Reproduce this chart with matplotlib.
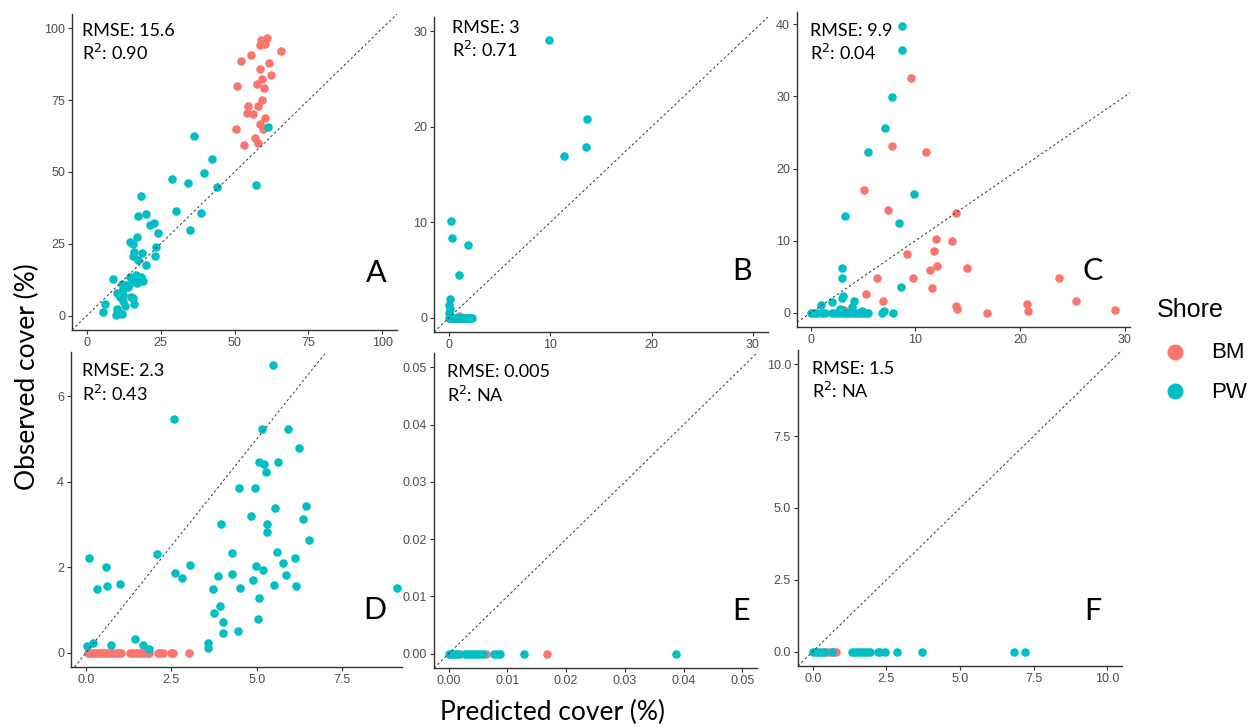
import matplotlib
matplotlib.use("Agg")
import matplotlib.pyplot as plt
from matplotlib.lines import Line2D

W, H = 1258, 727
BM_COL = "#F8766D"
PW_COL = "#00BFC4"

# ---------------- data ----------------
# Panel A
a_bm_x = [58.9, 60.9, 60.3, 58.7, 59.8, 65.7, 55.6, 52.2, 61.6, 58.7, 62.4, 59.2, 57.5, 60.0,
          50.8, 59.2, 58.0, 54.6, 54.1, 56.1, 60.2, 58.7, 59.8, 50.5, 56.8, 58.1, 53.3]
a_bm_y = [96.1, 96.6, 94.4, 94.1, 95.6, 92.1, 90.9, 88.7, 88.1, 86.0, 83.9, 82.3, 80.8, 79.2,
          79.9, 75.0, 72.9, 73.1, 70.5, 70.1, 68.9, 66.7, 64.8, 64.9, 61.9, 60.2, 59.4]
a_pw_x = [61.5, 57.2, 36.4, 42.3, 39.6, 29.0, 34.2, 44.2, 18.2, 30.2, 38.5, 17.3, 20.1, 21.4,
          22.9, 24.2, 34.9, 17.1, 14.6, 15.5, 23.3, 15.9, 18.6, 23.1, 15.5, 17.4, 20.0, 9.0,
          14.6, 16.6, 18.2, 19.1, 17.1, 15.2, 13.2, 11.8, 12.4, 14.0, 10.1, 11.2, 14.8, 12.4,
          15.9, 12.9, 6.2, 5.6, 10.3, 9.9, 11.8, 10.7, 16.3, 17.8, 15.6, 12.3]
a_pw_y = [65.6, 45.5, 62.5, 54.6, 49.8, 47.5, 46.3, 44.7, 41.8, 36.3, 35.9, 34.8, 35.3, 31.6,
          32.1, 28.7, 29.7, 27.5, 25.6, 25.0, 23.8, 22.2, 21.9, 20.7, 20.8, 19.4, 17.5, 12.8,
          13.6, 14.2, 13.4, 12.2, 11.3, 11.8, 10.8, 11.1, 9.3, 10.0, 7.9, 6.4, 6.4, 5.0,
          4.2, 3.5, 3.9, 1.4, 2.3, 0.2, 0.7, 1.1, 13.0, 12.8, 6.1, 7.3]

# Panel B
b_bm_x = [1.0, 0.3, 0.6]
b_bm_y = [0.15, 0.0, 0.0]
b_pw_x = [9.83, 13.57, 13.5, 11.3, 0.16, 0.26, 1.9, 1.0, 0.1, 0.0, 0.05, 0.0, 0.1,
          0.0, 0.15, 0.3, 0.45, 0.6, 0.75, 0.9, 1.05, 1.2, 1.35, 1.5, 1.65, 1.8, 1.95, 2.1, 2.3]
b_pw_y = [29.1, 20.8, 17.9, 16.9, 10.1, 8.3, 7.6, 4.5, 2.0, 1.3, 0.9, 0.5, 0.2,
          0, 0, 0, 0, 0, 0, 0, 0, 0, 0, 0, 0, 0, 0, 0, 0]

# Panel C
c_bm_x = [9.6, 7.75, 11.0, 5.06, 7.4, 13.9, 12.0, 13.5, 11.8, 9.2, 12.1, 14.9, 11.4, 6.3,
          9.75, 11.6, 5.25, 6.9, 13.9, 14.0, 16.8, 23.7, 25.3, 20.7, 20.8, 29.05, 3.2]
c_bm_y = [32.5, 23.1, 22.3, 17.0, 14.2, 13.8, 10.3, 10.0, 8.6, 8.1, 6.5, 6.2, 5.9, 4.9,
          4.8, 3.4, 2.6, 1.7, 1.0, 0.55, 0.0, 4.8, 1.6, 1.3, 0.2, 0.46, 0.4]
c_pw_x = [8.7, 8.7, 7.75, 7.1, 5.5, 9.84, 3.26, 8.45, 3.0, 3.0, 8.6, 3.1, 3.0, 2.06, 1.0,
          4.1, 4.0, 2.85, 2.9,
          0.0, 0.3, 0.6, 1.1, 1.4, 2.0, 2.3, 2.6, 2.9, 3.2, 3.5, 3.8, 4.1, 4.4, 4.7, 5.0,
          5.3, 5.5, 6.8, 7.0, 7.9, 4.9]
c_pw_y = [39.8, 36.4, 29.9, 25.6, 22.3, 16.5, 13.5, 12.5, 6.2, 4.8, 3.6, 2.3, 2.1, 1.56, 1.1,
          1.7, 0.8, 0.6, 0.4,
          0, 0, 0, 0, 0, 0, 0, 0, 0, 0, 0, 0, 0, 0, 0, 0,
          0, 0, 0, 0.2, 0, 0.2]

# Panel D
d_bm_x = [0.05, 0.12, 0.2, 0.27, 0.35, 0.42, 0.5, 0.58, 0.65, 0.72, 0.8, 0.88, 0.95, 1.02,
          1.3, 1.38, 1.45, 1.55, 1.62, 1.7, 1.78, 1.85, 2.1, 2.18, 2.25, 2.5, 2.55, 3.02]
d_bm_y = [0.0] * len(d_bm_x)
d_pw_x = [5.47, 2.58, 5.14, 5.9, 6.23, 5.07, 5.21, 5.63, 5.27, 4.47, 4.95, 5.52, 6.45, 4.84,
          6.34, 3.95, 5.29, 5.29, 6.52, 5.58, 4.26, 2.07, 0.08, 6.11, 0.57, 4.99, 5.78, 3.03,
          5.19, 2.59, 3.87, 4.28, 5.85, 2.81, 4.9, 0.31, 0.6, 0.98, 3.72, 4.52, 5.5, 6.16,
          9.1, 5.05, 3.92, 3.74, 4.0, 5.02, 4.0, 4.45, 3.57, 3.57, 1.43, 1.67, 1.83, 0.04,
          0.21, 0.74]
d_pw_y = [6.72, 5.47, 5.24, 5.24, 4.79, 4.45, 4.42, 4.46, 4.22, 3.84, 3.86, 3.39, 3.44, 3.19,
          3.12, 3.02, 3.0, 2.81, 2.64, 2.36, 2.33, 2.3, 2.22, 2.22, 2.0, 2.02, 2.09, 2.05,
          1.93, 1.86, 1.8, 1.84, 1.82, 1.74, 1.7, 1.5, 1.55, 1.6, 1.5, 1.51, 1.59, 1.57,
          1.51, 1.28, 1.09, 0.92, 0.71, 0.78, 0.46, 0.5, 0.22, 0.11, 0.31, 0.18, 0.09, 0.16,
          0.22, 0.19]

# Panel E
e_bm_x = [0.002, 0.0064, 0.0168]
e_bm_y = [0.0, 0.0, 0.0]
e_pw_x = [0.0, 0.0004, 0.0008, 0.0012, 0.0016, 0.0028, 0.0033, 0.0038, 0.0043, 0.0048,
          0.0053, 0.0058, 0.0078, 0.0082, 0.0087, 0.0129, 0.0387]
e_pw_y = [0.0] * len(e_pw_x)

# Panel F
f_bm_x = [0.45, 0.55, 0.7, 0.8]
f_bm_y = [0.0] * len(f_bm_x)
f_pw_x = [0.0, 0.1, 0.2, 0.3, 0.37, 0.65, 1.35, 1.45, 1.55, 1.65, 1.75, 1.85, 1.95, 2.2,
          2.3, 2.45, 2.87, 3.7, 6.82, 7.2]
f_pw_y = [0.0] * len(f_pw_x)

rmse_labels = ["15.6", "3", "9.9", "2.3", "0.005", "1.5"]
r2_labels = ["0.90", "0.71", "0.04", "0.43", "NA", "NA"]
panel_letters = ["A", "B", "C", "D", "E", "F"]

a_ticks = [0, 25, 50, 75, 100]
b_ticks = [0, 10, 20, 30]
c_xticks = [0, 10, 20, 30]
c_yticks = [0, 10, 20, 30, 40]
d_xticks = [0.0, 2.5, 5.0, 7.5]
d_yticks = [0, 2, 4, 6]
e_ticks = [0.00, 0.01, 0.02, 0.03, 0.04, 0.05]
f_ticks = [0.0, 2.5, 5.0, 7.5, 10.0]

# ---------------- layout (pixel boxes: left, right, top, bottom) ----------------
panels = [
    dict(box=(72, 397, 14, 330), xlim=(-5, 105), ylim=(-5, 105),
         xt=a_ticks, yt=a_ticks, xf="{:.0f}", yf="{:.0f}",
         bm=(a_bm_x, a_bm_y), pw=(a_pw_x, a_pw_y),
         txt=(82, 36, 60), let=(366, 282)),
    dict(box=(434, 768, 17, 332), xlim=(-1.5, 31.5), ylim=(-1.5, 31.5),
         xt=b_ticks, yt=b_ticks, xf="{:.0f}", yf="{:.0f}",
         bm=(b_bm_x, b_bm_y), pw=(b_pw_x, b_pw_y),
         txt=(452, 33, 57), let=(732, 280)),
    dict(box=(797, 1130, 12, 327), xlim=(-1.3, 30.5), ylim=(-1.95, 41.7),
         xt=c_xticks, yt=c_yticks, xf="{:.0f}", yf="{:.0f}",
         bm=(c_bm_x, c_bm_y), pw=(c_pw_x, c_pw_y),
         txt=(810, 36, 60), let=(1082, 280)),
    dict(box=(71, 402, 352, 667), xlim=(-0.44, 9.25), ylim=(-0.335, 7.03),
         xt=d_xticks, yt=d_yticks, xf="{:.1f}", yf="{:.0f}",
         bm=(d_bm_x, d_bm_y), pw=(d_pw_x, d_pw_y),
         txt=(82, 376, 401), let=(363, 619)),
    dict(box=(434, 757, 353, 668), xlim=(-0.0025, 0.0525), ylim=(-0.0025, 0.0525),
         xt=e_ticks, yt=e_ticks, xf="{:.2f}", yf="{:.2f}",
         bm=(e_bm_x, e_bm_y), pw=(e_pw_x, e_pw_y),
         txt=(447, 377, 402), let=(732, 620)),
    dict(box=(798, 1122, 350, 666), xlim=(-0.5, 10.5), ylim=(-0.5, 10.5),
         xt=f_ticks, yt=f_ticks, xf="{:.1f}", yf="{:.1f}",
         bm=(f_bm_x, f_bm_y), pw=(f_pw_x, f_pw_y),
         txt=(812, 374, 398), let=(1084, 620)),
]

fig = plt.figure(figsize=(W / 100, H / 100), dpi=100)
fig.patch.set_facecolor("white")

ANN_FONT = ["Lato", "DejaVu Sans"]
TICK_FONT = ["Liberation Sans", "DejaVu Sans"]


def fx(px):
    return px / W


def fy(py):
    return 1 - py / H


for i, p in enumerate(panels):
    l, r, t, b = p["box"]
    ax = fig.add_axes([l / W, 1 - b / H, (r - l) / W, (b - t) / H])
    ax.set_facecolor("white")
    ax.scatter(*p["bm"], s=38, color=BM_COL, linewidths=0, zorder=3)
    ax.scatter(*p["pw"], s=38, color=PW_COL, linewidths=0, zorder=4)
    ax.axline((0, 0), slope=1, color="#333333", lw=0.7,
              linestyle=(0, (2.5, 2.5)), zorder=5)
    ax.set_xlim(*p["xlim"])
    ax.set_ylim(*p["ylim"])
    ax.set_xticks(p["xt"])
    ax.set_yticks(p["yt"])
    ax.set_xticklabels([p["xf"].format(v) for v in p["xt"]])
    ax.set_yticklabels([p["yf"].format(v) for v in p["yt"]])
    for s in ["top", "right"]:
        ax.spines[s].set_visible(False)
    for s in ["left", "bottom"]:
        ax.spines[s].set_color("#333333")
        ax.spines[s].set_linewidth(1.0)
    ax.tick_params(axis="both", length=3, width=0.8, color="#333333",
                   labelcolor="#4D4D4D", labelsize=9, pad=2)
    for lab in ax.get_xticklabels() + ax.get_yticklabels():
        lab.set_fontfamily(TICK_FONT)

    tx, ty1, ty2 = p["txt"]
    fig.text(fx(tx), fy(ty1), "RMSE: " + rmse_labels[i], fontsize=13,
             family=ANN_FONT, color="black", ha="left", va="baseline")
    fig.text(fx(tx), fy(ty2), "R$^{2}$: " + r2_labels[i], fontsize=13,
             family=ANN_FONT, color="black", ha="left", va="baseline")
    lx, ly = p["let"]
    fig.text(fx(lx), fy(ly), panel_letters[i], fontsize=22,
             family=ANN_FONT, color="black", ha="left", va="baseline")

# axis titles
fig.text(fx(27), fy(377), "Observed cover (%)", rotation=90, fontsize=19,
         family=ANN_FONT, ha="center", va="center")
fig.text(fx(553), fy(712), "Predicted cover (%)", fontsize=19,
         family=ANN_FONT, ha="center", va="center")

# legend
fig.text(fx(1157), fy(310), "Shore", fontsize=18, family=TICK_FONT,
         ha="left", va="center")
fig.add_artist(Line2D([fx(1175)], [fy(352)], marker="o", markersize=10.5,
                      color=BM_COL, linestyle="none", transform=fig.transFigure))
fig.add_artist(Line2D([fx(1175)], [fy(391)], marker="o", markersize=10.5,
                      color=PW_COL, linestyle="none", transform=fig.transFigure))
fig.text(fx(1211), fy(352), "BM", fontsize=16, family=TICK_FONT,
         ha="left", va="center")
fig.text(fx(1211), fy(392), "PW", fontsize=16, family=TICK_FONT,
         ha="left", va="center")

fig.savefig("out.png", dpi=100, facecolor="white")
